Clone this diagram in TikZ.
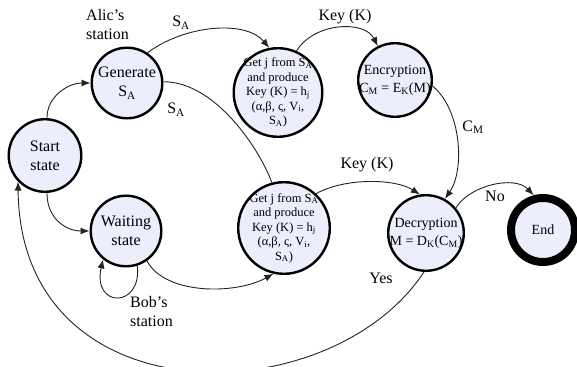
\documentclass[tikz,border=0pt]{standalone}
\usepackage{fontspec}
\setmainfont{Liberation Serif}
\usetikzlibrary{arrows.meta}
\definecolor{statefill}{RGB}{236,238,252}
\definecolor{edgegray}{RGB}{35,35,35}
\begin{document}
\begin{tikzpicture}[x=1pt,y=-1pt,
  state/.style={circle,draw=black,line width=2.4pt,fill=statefill,inner sep=0pt},
  big/.style={font=\fontsize{16}{19}\selectfont,align=center,text=black},
  mid/.style={font=\fontsize{14}{18}\selectfont,align=center,text=black},
  small/.style={font=\fontsize{12.5}{14.5}\selectfont,align=center,text=black},
  edge/.style={draw=edgegray,line width=0.9pt},
  arr/.style={edge,-{Latex[length=9pt,width=7pt]}},
  lbl/.style={font=\fontsize{16}{19}\selectfont,inner sep=0pt,text=black}]
\useasboundingbox (0,0) rectangle (577,366);

% states
\node[state,minimum size=72.6pt,label={[big]center:{Start\\state}}] (start) at (45,155.5) {};
\node[state,minimum size=70.6pt,label={[big]center:{Generate\\S\textsubscript{A}}}] (gen) at (127,83) {};
\node[state,minimum size=70.6pt,label={[big]center:{Waiting\\state}}] (wait) at (126,231) {};
\node[state,minimum size=88.6pt,label={[small]center:{Get j from S\textsubscript{A}\\and produce\\Key (K) = h\textsubscript{j}\\(α,β, ς, V\textsubscript{i},\\S\textsubscript{A})}}] (getA) at (278,92.5) {};
\node[state,minimum size=91.6pt,label={[small]center:{Get j from S\textsubscript{A}\\and produce\\Key (K) = h\textsubscript{j}\\(α,β, ς, V\textsubscript{i},\\S\textsubscript{A})}}] (getB) at (284,228) {};
\node[state,minimum size=73.6pt,label={[mid]center:{Encryption\\C\textsubscript{M} = E\textsubscript{K}(M)}}] (enc) at (395,80) {};
\node[state,minimum size=75.6pt,label={[mid]center:{Decryption\\M = D\textsubscript{K}(C\textsubscript{M})}}] (dec) at (426,233) {};
\node[state,line width=8pt,minimum size=64pt,label={[mid]center:End}] (end) at (543,230) {};

% station captions
\node[lbl,align=left,anchor=west] (alice) at (86,25) {Alic's\\station};
\node[lbl,align=left,anchor=west] (bob) at (130,312) {Bob's\\station};

% transitions
\draw[arr] (start.87) .. controls +(0,-22) and +(-22,0) .. (gen.180);
\draw[arr] (start.-87) .. controls +(0,27) and +(-22,0) .. (wait.180);
\draw[arr] (wait.-72) .. controls +(5,43) and +(-11,49) .. (wait.-129);
\draw[arr] (gen.56) .. controls +(38,-28) and +(-24,-28) .. (getA.101);
\draw[edge] (gen.2) .. controls +(52,0) and +(-12,-33) .. (getB.105);
\draw[arr] (wait.-55) .. controls +(18,34) and +(-38,21) .. (getB.-103);
\draw[arr] (getA.66) .. controls +(18,-29) and +(-13,-26) .. (enc.117);
\draw[arr] (enc.-9) .. controls +(29,24) and +(20,-29) .. (dec.61);
\draw[arr] (getB.47) .. controls +(29,-16) and +(-25,-16) .. (dec.99);
\draw[arr] (dec.40) .. controls +(14,-23) and +(-19,-20) .. (end.105);
\draw[arr] (dec.-93) .. controls +(-94,143) and +(2,238) .. (start.-136);

% transition labels
\node[lbl] (lsa1) at (181,23) {S\textsubscript{A}};
\node[lbl] (lsa2) at (176,110) {S\textsubscript{A}};
\node[lbl] (lkey1) at (345,17) {Key (K)};
\node[lbl] (lkey2) at (367,165) {Key (K)};
\node[lbl] (lcm) at (473,127) {C\textsubscript{M}};
\node[lbl] (lno) at (495,196) {No};
\node[lbl] (lyes) at (381,278) {Yes};
\end{tikzpicture}
\end{document}
